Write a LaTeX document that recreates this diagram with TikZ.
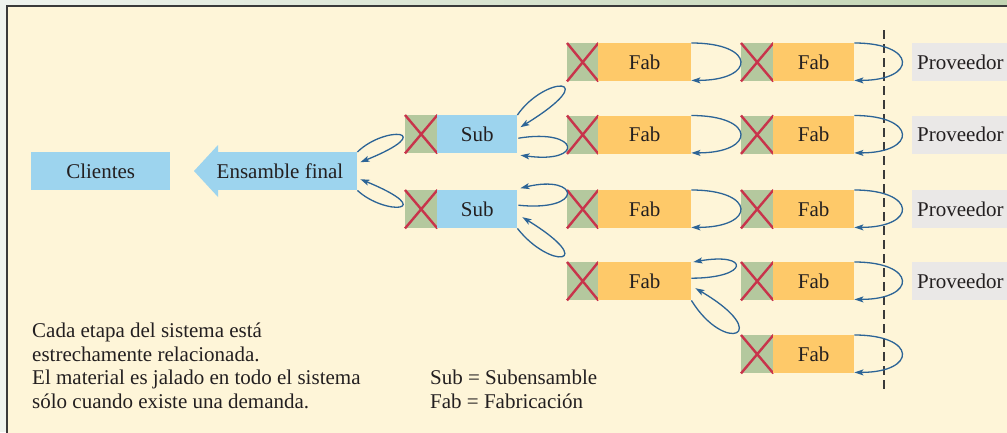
\documentclass[tikz,border=0pt]{standalone}
\usepackage{fontspec}
\setmainfont{Liberation Serif}
\usetikzlibrary{arrows.meta}
\definecolor{cream}{HTML}{FEF5D8}
\definecolor{framegray}{HTML}{3A3A3A}
\definecolor{stripL}{HTML}{EFF3EE}
\definecolor{stripR}{HTML}{C2D4B2}
\definecolor{lblue}{HTML}{9DD4EE}
\definecolor{fabor}{HTML}{FEC969}
\definecolor{sqgreen}{HTML}{B4C89E}
\definecolor{xred}{HTML}{C8344B}
\definecolor{arrblue}{HTML}{2C6496}
\definecolor{provgray}{HTML}{EAE8E7}
\definecolor{txt}{HTML}{231F20}
\newcommand\bigfont{\fontsize{21}{24}\selectfont}
\tikzset{
  sq/.style={anchor=north west, minimum width=#1, minimum height=38pt, inner sep=0pt, fill=sqgreen},
  stagebox/.style={anchor=north west, minimum height=38pt, inner sep=0pt, font=\bigfont, text=txt},
  xmark/.style={draw=xred, line width=2.4pt},
  pull/.style={draw=arrblue, line width=1.3pt, -{Stealth[length=9pt,width=6pt,inset=2pt]}},
  provbox/.style={anchor=north west, minimum height=38pt, minimum width=100pt, inner xsep=5pt, inner ysep=0pt, text width=90pt, align=left, fill=provgray, font=\bigfont, text=txt},
  note/.style={anchor=base west, inner sep=0pt, font=\bigfont, text=txt}
}
% #1 name, #2 x of square, #3 top y, #4 square width, #5 box width, #6 colour, #7 text
\newcommand\mystage[7]{%
  \node[sq=#4pt] (#1x) at (#2,#3) {};
  \draw[xmark] (#1x.north west) -- (#1x.south east) (#1x.north east) -- (#1x.south west);
  \node[stagebox, fill=#6, minimum width=#5pt] (#1) at (#2+#4,#3) {#7};
}
\begin{document}
\begin{tikzpicture}[x=1pt,y=-1pt]
\useasboundingbox (0,0) rectangle (1007,432);
% background
\fill[stripL] (0,0) rectangle (1007,432);
\shade[left color=stripL, right color=stripR] (0,0) rectangle (1007,5.5);
\draw[fill=cream, draw=framegray, line width=1.6pt] (6.8,5.8) rectangle (1020,445);

% customers and final assembly
\node[stagebox, fill=lblue, minimum width=139pt] (cli) at (31,152) {Clientes};
\node[stagebox, fill=lblue, minimum width=139pt] (ens) at (218,152) {};
\fill[lblue] (ens.north west) -- ++(0,-7) -- (194,171) -- (218,197) -- (ens.south west) -- cycle;
\node[font=\bigfont, text=txt] (enst) at (280,171) {Ensamble final};

% subassemblies
\mystage{s1}{405}{115}{32}{80}{lblue}{Sub}
\mystage{s2}{405}{190}{32}{80}{lblue}{Sub}

% fabrication, column 1
\mystage{fa1}{567}{43}{31}{93}{fabor}{Fab}
\mystage{fa2}{567}{115.5}{31}{93}{fabor}{Fab}
\mystage{fa3}{567}{190}{31}{93}{fabor}{Fab}
\mystage{fa4}{567}{262}{31}{93}{fabor}{Fab}
% fabrication, column 2
\mystage{fb1}{741}{43}{32}{81}{fabor}{Fab}
\mystage{fb2}{741}{115.5}{32}{81}{fabor}{Fab}
\mystage{fb3}{741}{190}{32}{81}{fabor}{Fab}
\mystage{fb4}{741}{262}{32}{81}{fabor}{Fab}
\mystage{fb5}{741}{335}{32}{81}{fabor}{Fab}

% suppliers
\node[provbox] (p1) at (912,43) {Proveedor};
\node[provbox] (p2) at (912,115.5) {Proveedor};
\node[provbox] (p3) at (912,190) {Proveedor};
\node[provbox] (p4) at (912,262) {Proveedor};

% dashed boundary
\coordinate (dtop) at (884,30);
\coordinate (dbot) at (884,390);
\draw[framegray, line width=1.1pt, dash pattern=on 9pt off 5pt] (dtop) -- (dbot);

% pull loops: column 2 (towards suppliers)
\foreach \n in {fb1,fb2,fb3,fb4,fb5}{
  \draw[pull] (\n.north east) .. controls +(63,0) and +(63,0) .. ([yshift=1pt]\n.south east);
}
% column 1 rows 1-3
\foreach \n in {fa1,fa2,fa3}{
  \draw[pull] (\n.north east) .. controls +(65,0) and +(65,0) .. ([yshift=1pt]\n.south east);
}
% column 1 row 4
\draw[pull] ([shift={(0,-3)}]fa4.east) .. controls (750,278) and (750,252) .. ([shift={(2,0)}]fa4.north east);
\draw[pull] (fa4.south east) .. controls (725,355) and (775,335) .. ([shift={(4,7)}]fa4.east);

% subassembly 1
\draw[pull] (s1.north east) .. controls (545,75) and (605,75) .. ([shift={(3,-7)}]s1.east);
\draw[pull] ([shift={(1,4)}]s1.east) .. controls (580,128) and (585,164) .. ([shift={(3,21)}]s1.east);
% subassembly 2
\draw[pull] ([shift={(1,-4)}]s2.east) .. controls (585,212) and (580,174) .. ([shift={(3,-21)}]s2.east);
\draw[pull] (s2.south east) .. controls (550,270) and (600,265) .. ([shift={(5,8)}]s2.east);

% final assembly
\draw[pull] (ens.north east) .. controls (385,125) and (440,130) .. ([shift={(3,-9)}]ens.east);
\draw[pull] (ens.south east) .. controls (385,216) and (440,212) .. ([shift={(3,8)}]ens.east);

% notes
\node[note] (n1) at (32,337) {Cada etapa del sistema está};
\node[note] (n2) at (32,361) {estrechamente relacionada.};
\node[note] (n3) at (32,384.5) {El material es jalado en todo el sistema};
\node[note] (n4) at (32,408) {sólo cuando existe una demanda.};
\node[note] (l1) at (430,384.5) {Sub = Subensamble};
\node[note] (l2) at (430,408) {Fab = Fabricación};
\end{tikzpicture}
\end{document}
